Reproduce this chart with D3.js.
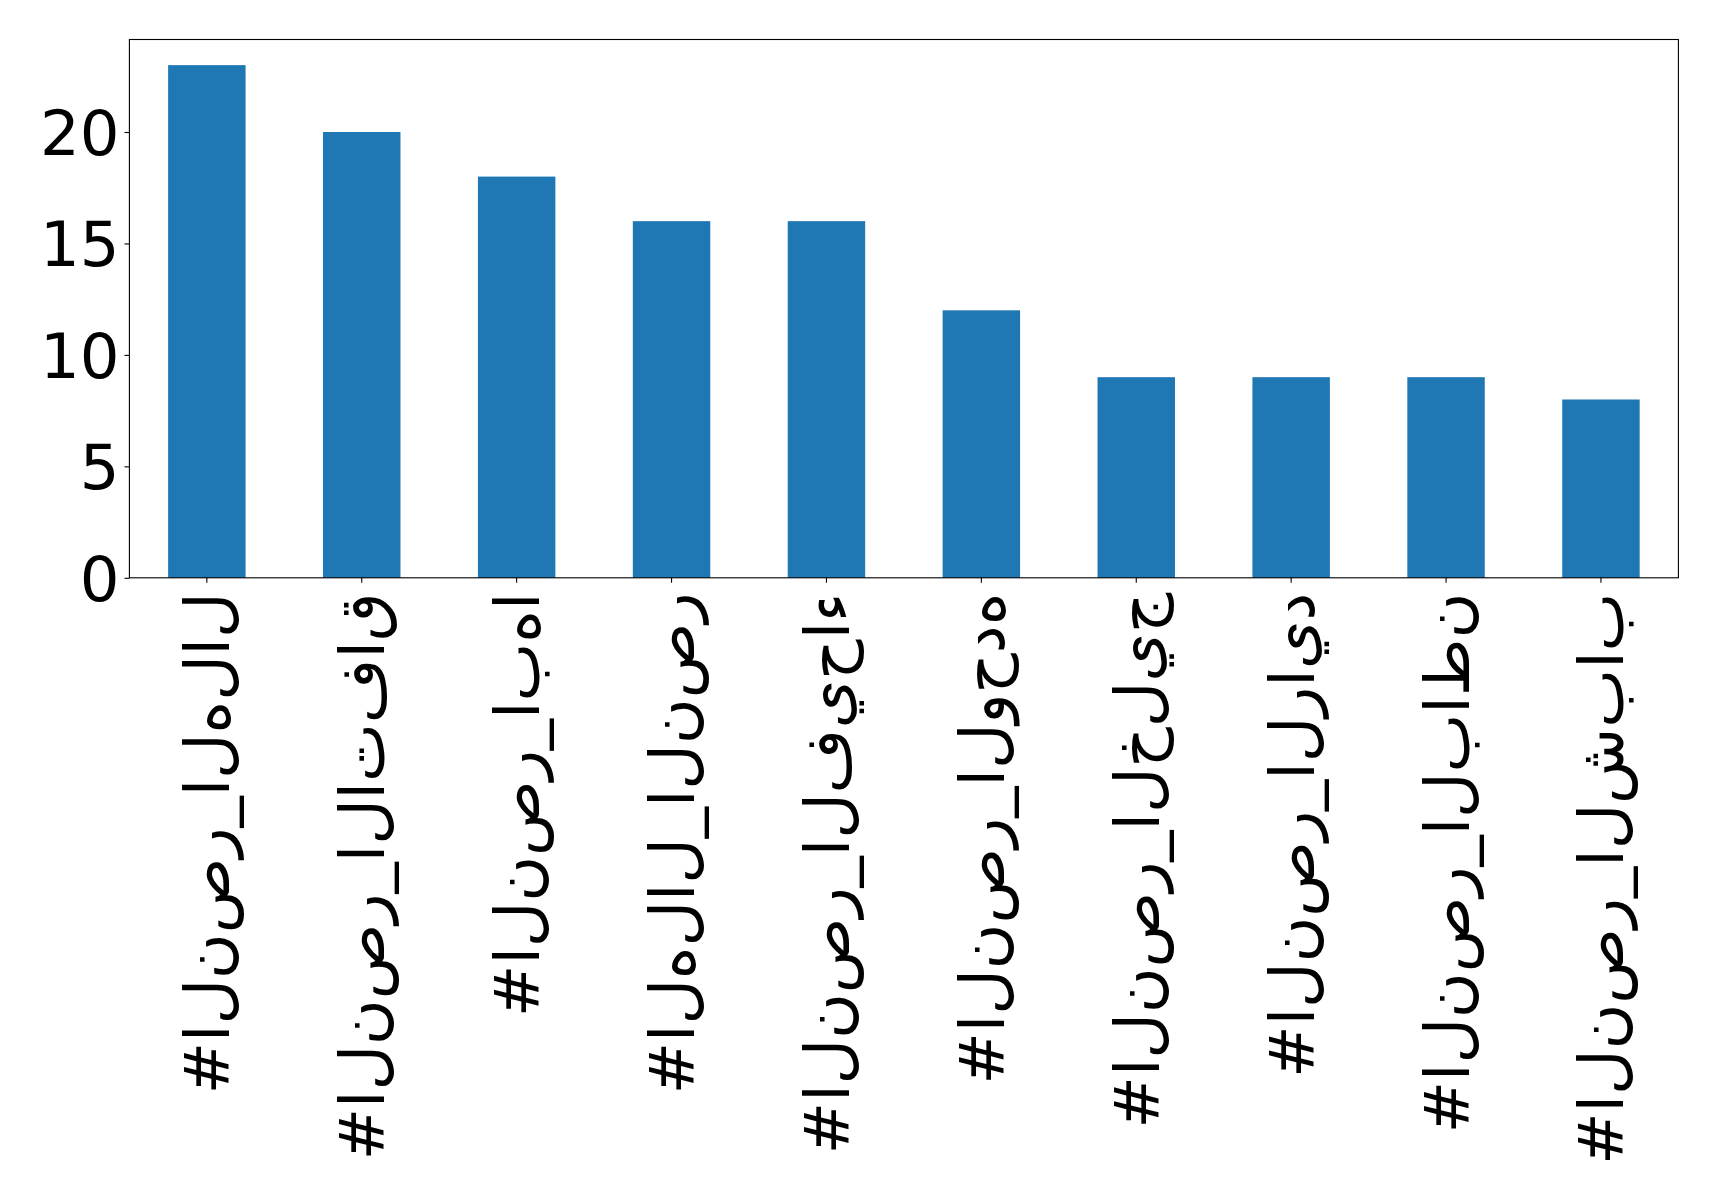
<!DOCTYPE html>
<html>
<head>
<meta charset="utf-8">
<script src="https://cdn.jsdelivr.net/npm/d3@7"></script>
<style>
  html, body { margin: 0; padding: 0; background: #ffffff; }
  svg { display: block; }
  .lbl { font-family: "DejaVu Sans", sans-serif; }
</style>
</head>
<body>
<svg id="chart" width="1719" height="1200"></svg>
<script>
const categories = [
  "#النصر_الهلال",
  "#النصر_الاتفاق",
  "#النصر_ابها",
  "#الهلال_النصر",
  "#النصر_الفيحاء",
  "#النصر_الوحده",
  "#النصر_الخليج",
  "#النصر_الرايد",
  "#النصر_الباطن",
  "#النصر_الشباب"
];
const values = [23, 20, 18, 16, 16, 12, 9, 9, 9, 8];
const yTicks = [0, 5, 10, 15, 20];

const W = 1719, H = 1200;
const m = { left: 129.4, right: 1678.4, top: 39.5, bottom: 577.8 };
const fontSize = 62.5;
const tickLen = 4.9, tickPad = 4.9;

const svg = d3.select("#chart");

const x = d3.scaleBand()
  .domain(categories)
  .range([m.left, m.right])
  .paddingInner(0.5)
  .paddingOuter(0.25);

const yMax = d3.max(values) * 1.05;
const y = d3.scaleLinear().domain([0, yMax]).range([m.bottom, m.top]);

// bars
svg.append("g").selectAll("rect")
  .data(values)
  .join("rect")
  .attr("x", (d, i) => x(categories[i]))
  .attr("width", x.bandwidth())
  .attr("y", d => y(d))
  .attr("height", d => y(0) - y(d))
  .attr("fill", "#1f77b4");

// frame
svg.append("rect")
  .attr("x", m.left).attr("y", m.top)
  .attr("width", m.right - m.left).attr("height", m.bottom - m.top)
  .attr("fill", "none").attr("stroke", "#000").attr("stroke-width", 1.1);

// y axis
const yAxis = svg.append("g")
  .attr("transform", `translate(${m.left},0)`)
  .call(d3.axisLeft(y).tickValues(yTicks).tickFormat(d3.format("d")).tickSize(tickLen).tickPadding(tickPad));
yAxis.select(".domain").remove();
yAxis.selectAll(".tick line").attr("stroke", "#000").attr("stroke-width", 1.1);
yAxis.selectAll(".tick text")
  .attr("class", "lbl")
  .attr("font-size", fontSize)
  .attr("fill", "#000")
  .attr("dy", "0.36em");

// x axis: Arabic rendered letter-by-letter, unjoined, left to right
const LRO = "\u202D", PDF = "\u202C", ZWNJ = "\u200C";
const unjoined = s => LRO + Array.from(s).join(ZWNJ) + PDF;

const xAxis = svg.append("g")
  .attr("transform", `translate(0,${m.bottom})`)
  .call(d3.axisBottom(x).tickSize(tickLen).tickFormat(unjoined));
xAxis.select(".domain").remove();
xAxis.selectAll(".tick line").attr("stroke", "#000").attr("stroke-width", 1.1);
xAxis.selectAll(".tick text")
  .attr("class", "lbl")
  .attr("font-size", fontSize)
  .attr("fill", "#000")
  .style("direction", "ltr")
  .style("unicode-bidi", "bidi-override")
  .attr("text-anchor", "end")
  .attr("transform", "rotate(-90)")
  .attr("x", -(tickLen + tickPad + 5))
  .attr("y", 0)
  .attr("dy", "0.36em");
</script>
</body>
</html>
